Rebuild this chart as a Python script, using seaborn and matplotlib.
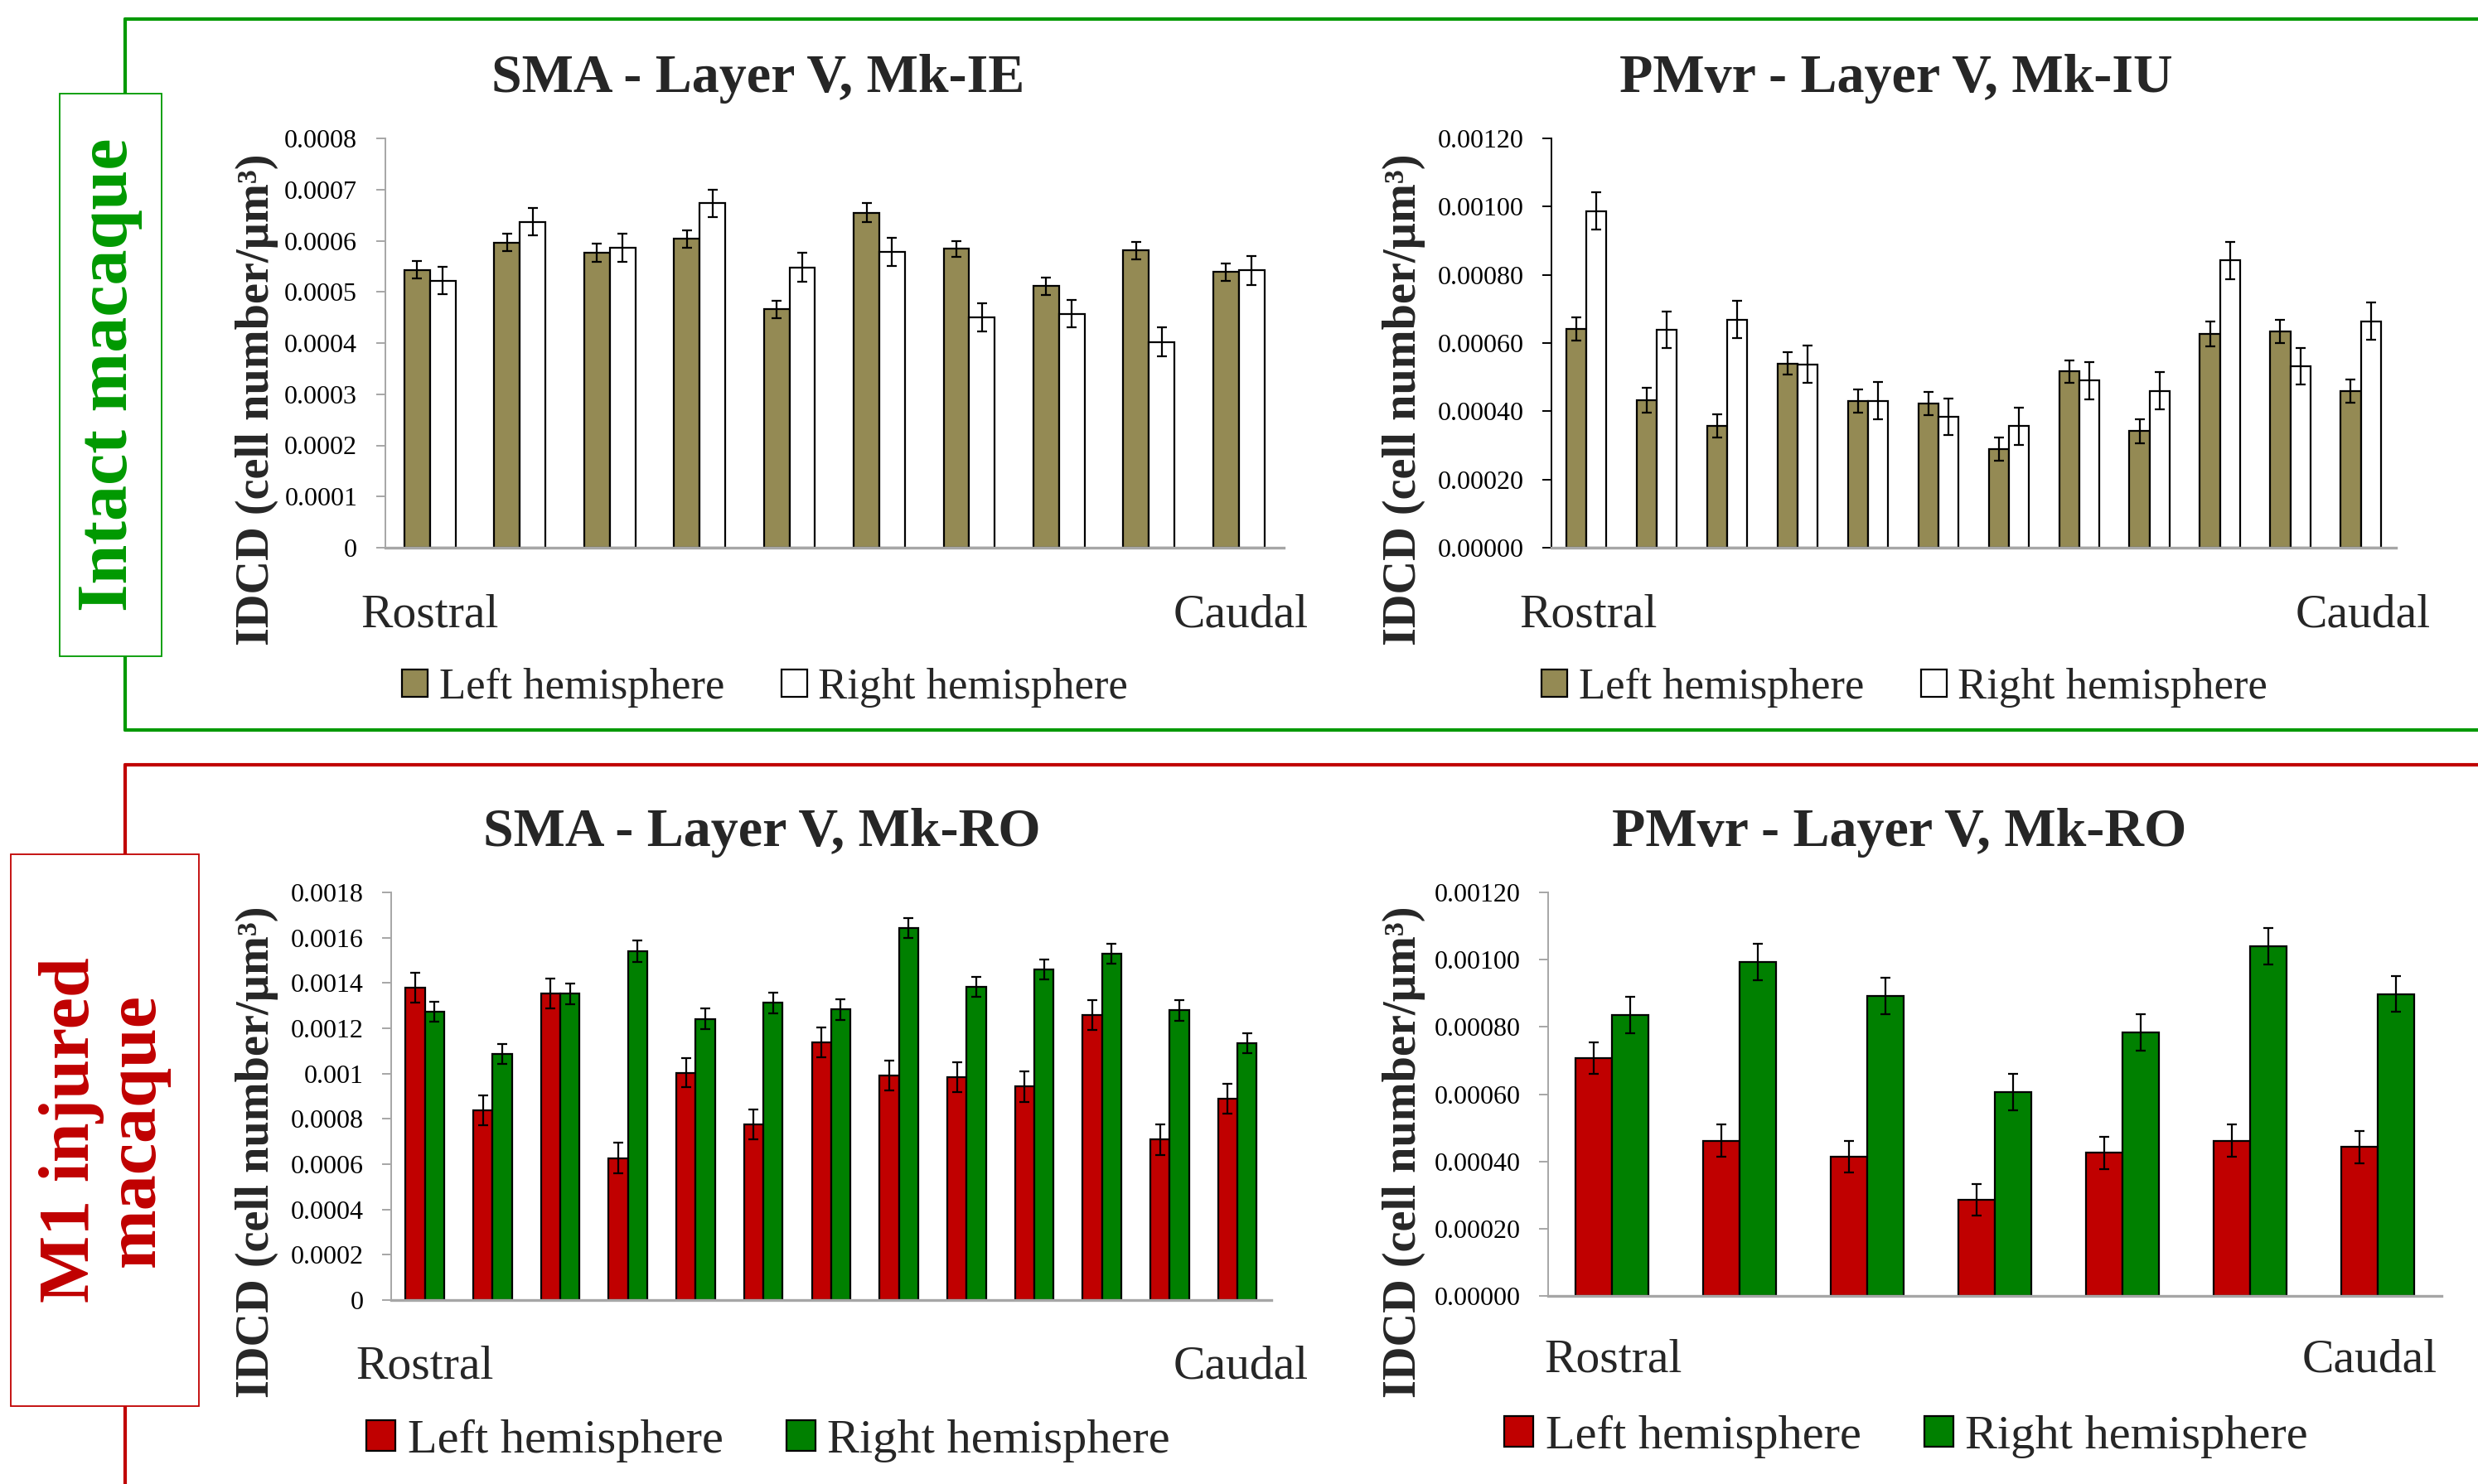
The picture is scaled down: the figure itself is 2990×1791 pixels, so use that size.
import numpy as np
import pandas as pd
import matplotlib
matplotlib.use("Agg")
import matplotlib.pyplot as plt
import seaborn as sns
from matplotlib.patches import Patch, Rectangle
from matplotlib.lines import Line2D

# ---------------- data ----------------
hemispheres = ["Left hemisphere", "Right hemisphere"]

# SMA - Layer V, Mk-IE (10 sections, rostral -> caudal)
sma_ie_left = [0.000543, 0.000596, 0.000577, 0.000604, 0.000466, 0.000655, 0.000584, 0.000511, 0.000581, 0.000539]
sma_ie_left_err = [0.000017, 0.000017, 0.000018, 0.000017, 0.000017, 0.000018, 0.000016, 0.000017, 0.000017, 0.000017]
sma_ie_right = [0.000522, 0.000637, 0.000586, 0.000673, 0.000548, 0.000578, 0.000450, 0.000457, 0.000402, 0.000542]
sma_ie_right_err = [0.000027, 0.000027, 0.000028, 0.000027, 0.000028, 0.000027, 0.000027, 0.000027, 0.000028, 0.000028]

# PMvr - Layer V, Mk-IU (12 sections)
pmvr_iu_left = [0.000642, 0.000432, 0.000357, 0.000540, 0.000431, 0.000423, 0.000289, 0.000517, 0.000342, 0.000627, 0.000633, 0.000459]
pmvr_iu_left_err = [0.000034, 0.000036, 0.000034, 0.000033, 0.000034, 0.000034, 0.000033, 0.000033, 0.000035, 0.000036, 0.000034, 0.000035]
pmvr_iu_right = [0.000987, 0.000639, 0.000669, 0.000538, 0.000431, 0.000384, 0.000356, 0.000490, 0.000460, 0.000842, 0.000532, 0.000664]
pmvr_iu_right_err = [0.000054, 0.000054, 0.000054, 0.000055, 0.000055, 0.000054, 0.000054, 0.000055, 0.000055, 0.000055, 0.000054, 0.000054]

# SMA - Layer V, Mk-RO (13 sections)
sma_ro_left = [0.001379, 0.000838, 0.001354, 0.000626, 0.001004, 0.000775, 0.001137, 0.000991, 0.000984, 0.000943, 0.001259, 0.000709, 0.000889]
sma_ro_left_err = [0.000066, 0.000066, 0.000067, 0.000068, 0.000065, 0.000065, 0.000065, 0.000065, 0.000066, 0.000067, 0.000067, 0.000067, 0.000067]
sma_ro_right = [0.001273, 0.001087, 0.001352, 0.001539, 0.001242, 0.001312, 0.001283, 0.001643, 0.001382, 0.001461, 0.001528, 0.001279, 0.001134]
sma_ro_right_err = [0.000044, 0.000045, 0.000045, 0.000047, 0.000045, 0.000045, 0.000045, 0.000044, 0.000044, 0.000044, 0.000044, 0.000045, 0.000045]

# PMvr - Layer V, Mk-RO (7 sections)
pmvr_ro_left = [0.000707, 0.000462, 0.000414, 0.000285, 0.000426, 0.000462, 0.000443]
pmvr_ro_left_err = [0.000047, 0.000049, 0.000048, 0.000047, 0.000048, 0.000048, 0.000048]
pmvr_ro_right = [0.000835, 0.000994, 0.000892, 0.000606, 0.000783, 0.001040, 0.000898]
pmvr_ro_right_err = [0.000055, 0.000054, 0.000054, 0.000054, 0.000054, 0.000055, 0.000054]

ticks_sma_ie = [0, 0.0001, 0.0002, 0.0003, 0.0004, 0.0005, 0.0006, 0.0007, 0.0008]
ticklabels_sma_ie = ["0", "0.0001", "0.0002", "0.0003", "0.0004", "0.0005", "0.0006", "0.0007", "0.0008"]
ticks_pmvr = [0, 0.0002, 0.0004, 0.0006, 0.0008, 0.0010, 0.0012]
ticklabels_pmvr = ["0.00000", "0.00020", "0.00040", "0.00060", "0.00080", "0.00100", "0.00120"]
ticks_sma_ro = [0, 0.0002, 0.0004, 0.0006, 0.0008, 0.0010, 0.0012, 0.0014, 0.0016, 0.0018]
ticklabels_sma_ro = ["0", "0.0002", "0.0004", "0.0006", "0.0008", "0.001", "0.0012", "0.0014", "0.0016", "0.0018"]

titles = ["SMA - Layer V, Mk-IE", "PMvr - Layer V, Mk-IU", "SMA - Layer V, Mk-RO", "PMvr - Layer V, Mk-RO"]
ylabel_text = "IDCD (cell number/µm³)"
group_labels = ["Intact macaque", "M1 injured\nmacaque"]

# ---------------- styling ----------------
OLIVE = "#948A54"
RED = "#C00000"
GREEN = "#008000"
FRAME_GREEN = "#009900"
FRAME_RED = "#C00000"

sns.set_style("white")
plt.rcParams["font.family"] = ["Liberation Serif", "DejaVu Serif"]

W, H = 2990, 1791
fig = plt.figure(figsize=(W / 100, H / 100), dpi=100)
fig.patch.set_facecolor("white")


def fx(px):
    return px / W


def fy(py):
    return 1 - py / H


def panel(x0, x1, ytop, y0, left, left_err, right, right_err, colors, ticks, ticklabels,
          spine_color, title, title_xy, legend_xy, legend_fs, rostral_xy, caudal_xy, ylabel_xy):
    ax = fig.add_axes([fx(x0), fy(y0), fx(x1) - fx(x0), fy(ytop) - fy(y0)])
    n = len(left)
    sections = [f"S{i + 1}" for i in range(n)]
    df = pd.DataFrame({
        "section": sections * 2,
        "hemisphere": [hemispheres[0]] * n + [hemispheres[1]] * n,
        "idcd": list(left) + list(right),
    })
    pal = dict(zip(hemispheres, colors))
    sns.barplot(data=df, x="section", y="idcd", hue="hemisphere", hue_order=hemispheres,
                order=sections, palette=pal, saturation=1, width=0.57, errorbar=None,
                edgecolor="black", linewidth=1.6, legend=False, ax=ax)
    for cont, errs in zip(ax.containers, [left_err, right_err]):
        xs = [b.get_x() + b.get_width() / 2 for b in cont]
        hs = [b.get_height() for b in cont]
        ax.errorbar(xs, hs, yerr=errs, fmt="none", ecolor="black", elinewidth=1.6,
                    capsize=4, capthick=1.6, zorder=5)
    ax.set_xlim(-0.5, n - 0.5)
    ax.set_ylim(0, ticks[-1])
    ax.set_yticks(ticks)
    ax.set_yticklabels(ticklabels)
    ax.set_xticks([])
    ax.set_xlabel("")
    ax.set_ylabel("")
    for s in ["top", "right"]:
        ax.spines[s].set_visible(False)
    ax.spines["left"].set_color(spine_color)
    ax.spines["left"].set_linewidth(1.4)
    ax.spines["bottom"].set_color("#A6A6A6")
    ax.spines["bottom"].set_linewidth(2.4)
    ax.tick_params(axis="y", which="major", direction="out", length=8, width=1.4,
                   color=spine_color, labelsize=23, pad=16, labelcolor="black", left=True)
    ax.set_facecolor("white")

    fig.text(fx(title_xy[0]), fy(title_xy[1]), title, ha="center", va="center",
             fontsize=47.5, fontweight="bold")
    fig.text(fx(ylabel_xy[0]), fy(ylabel_xy[1]), ylabel_text, ha="center", va="center",
             rotation=90, fontsize=40.5, fontweight="bold")
    fig.text(fx(rostral_xy[0]), fy(rostral_xy[1]), "Rostral", ha="left", va="center", fontsize=41.5)
    fig.text(fx(caudal_xy[0]), fy(caudal_xy[1]), "Caudal", ha="right", va="center", fontsize=41.5)
    handles = [Patch(facecolor=c, edgecolor="black", linewidth=1.6) for c in colors]
    ax.legend(handles, hemispheres, loc="center", bbox_to_anchor=(fx(legend_xy[0]), fy(legend_xy[1])),
              bbox_transform=fig.transFigure, ncol=2, frameon=False, fontsize=legend_fs,
              handlelength=0.6, handleheight=0.6, handletextpad=0.25, columnspacing=1.3,
              borderpad=0, borderaxespad=0)
    return ax


panel(464.5, 1549, 167, 661, sma_ie_left, sma_ie_left_err, sma_ie_right, sma_ie_right_err,
      [OLIVE, "white"], ticks_sma_ie, ticklabels_sma_ie, "#A6A6A6",
      titles[0], (915, 95), (923, 830), 38, (435, 742), (1579, 742), (310, 482))

panel(1871.6, 2891, 167, 661, pmvr_iu_left, pmvr_iu_left_err, pmvr_iu_right, pmvr_iu_right_err,
      [OLIVE, "white"], ticks_pmvr, ticklabels_pmvr, "black",
      titles[1], (2288, 95), (2298, 830), 38, (1833, 742), (2933, 742), (1694, 482))

panel(471.7, 1534, 1077, 1569, sma_ro_left, sma_ro_left_err, sma_ro_right, sma_ro_right_err,
      [RED, GREEN], ticks_sma_ro, ticklabels_sma_ro, "#A6A6A6",
      titles[2], (919, 1005), (927, 1739), 42, (429, 1650), (1579, 1650), (310, 1390))

panel(1868.4, 2946, 1077, 1564, pmvr_ro_left, pmvr_ro_left_err, pmvr_ro_right, pmvr_ro_right_err,
      [RED, GREEN], ticks_pmvr, ticklabels_pmvr, "#A6A6A6",
      titles[3], (2292, 1005), (2300, 1734), 42, (1863, 1642), (2941, 1642), (1694, 1390))

# ---------------- group frames ----------------
lw_frame = 3.0
# green (intact)
fig.add_artist(Line2D([fx(151), fx(3000)], [fy(23), fy(23)], color=FRAME_GREEN, lw=lw_frame, zorder=1))
fig.add_artist(Line2D([fx(151), fx(3000)], [fy(881), fy(881)], color=FRAME_GREEN, lw=lw_frame, zorder=1))
fig.add_artist(Line2D([fx(151), fx(151)], [fy(23), fy(881)], color=FRAME_GREEN, lw=lw_frame, zorder=1))
fig.add_artist(Rectangle((fx(72), fy(792)), fx(195) - fx(72), fy(113) - fy(792),
                         facecolor="white", edgecolor=FRAME_GREEN, lw=1.3, zorder=2))
fig.text(fx(133), fy(452), group_labels[0], ha="center", va="center", rotation=90,
         fontsize=62, fontweight="bold", color=FRAME_GREEN, zorder=3)
# red (M1 injured)
fig.add_artist(Line2D([fx(151), fx(3000)], [fy(923), fy(923)], color=FRAME_RED, lw=lw_frame, zorder=1))
fig.add_artist(Line2D([fx(151), fx(151)], [fy(923), fy(1800)], color=FRAME_RED, lw=lw_frame, zorder=1))
fig.add_artist(Rectangle((fx(13), fy(1697)), fx(240) - fx(13), fy(1031) - fy(1697),
                         facecolor="white", edgecolor=FRAME_RED, lw=1.3, zorder=2))
fig.text(fx(126), fy(1364), group_labels[1], ha="center", va="center", rotation=90,
         fontsize=62, fontweight="bold", color=FRAME_RED, linespacing=1.0, zorder=3)

fig.savefig("out.png", dpi=100, facecolor="white")
